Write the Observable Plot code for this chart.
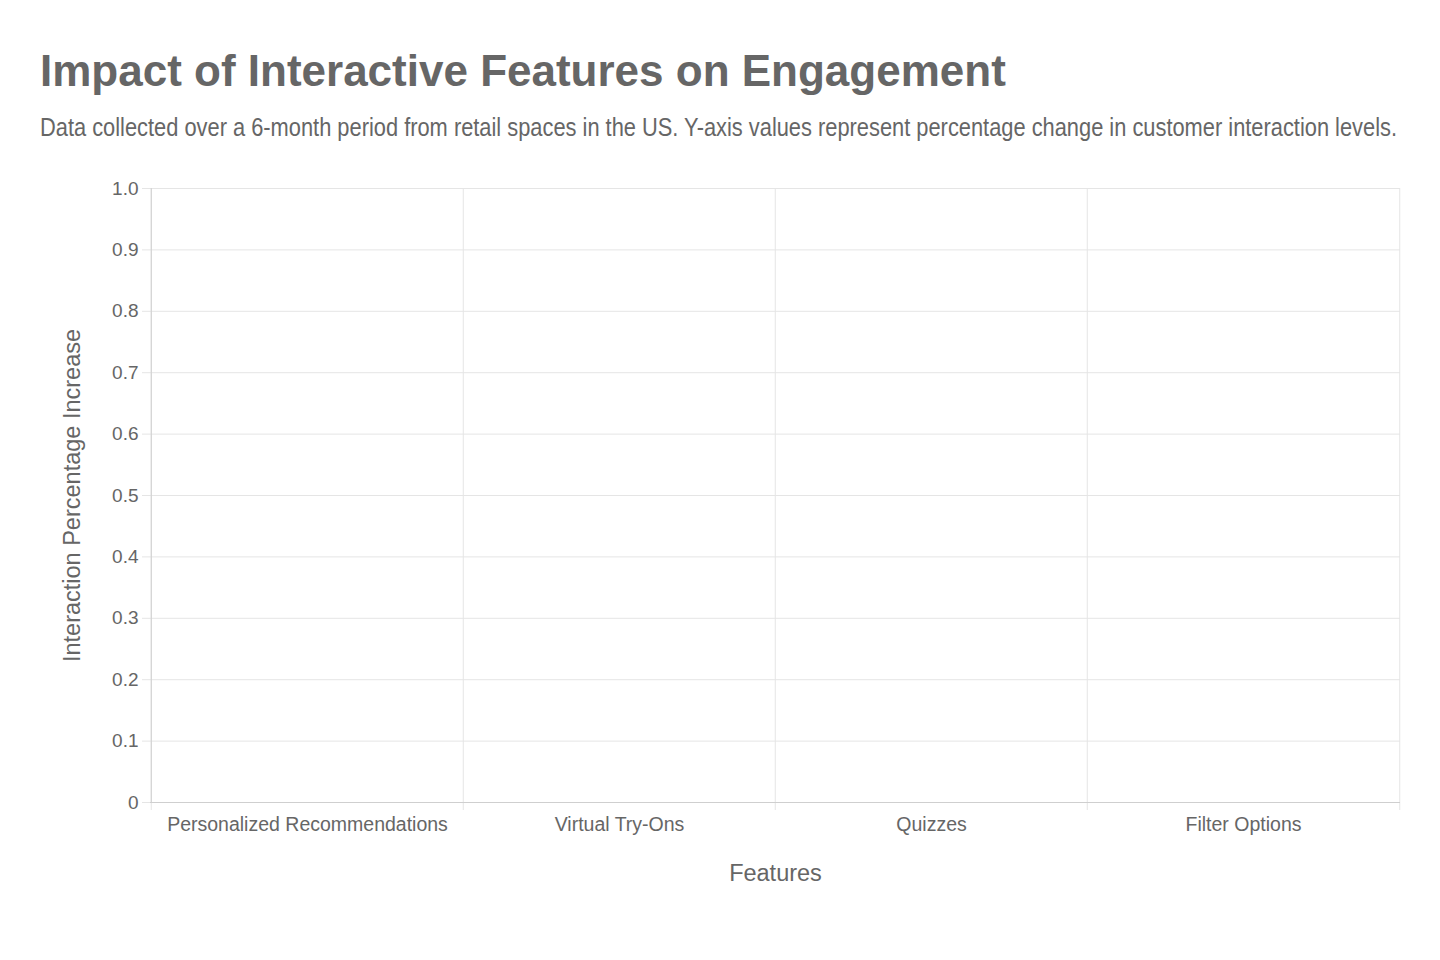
<!DOCTYPE html>
<html>
<head>
<meta charset="utf-8">
<script src="https://cdn.jsdelivr.net/npm/d3@7"></script>
<script src="https://cdn.jsdelivr.net/npm/@observablehq/plot@0.6"></script>
<style>
  html, body { margin: 0; padding: 0; background: #fff; }
  #wrap { position: relative; width: 1440px; height: 960px; overflow: hidden; }
  #title { position: absolute; left: 40px; top: 46px; font: bold 44px "Liberation Sans", Arial, sans-serif; color: #666; white-space: nowrap; }
  #subtitle { position: absolute; left: 40px; top: 112px; font: 26px "Liberation Sans", Arial, sans-serif; color: #666; white-space: nowrap; transform-origin: 0 0; display: inline-block; }
  #chart { position: absolute; left: 0; top: 0; }
</style>
</head>
<body>
<div id="wrap">
  <div id="chart"></div>
  <div id="title">Impact of Interactive Features on Engagement</div>
  <span id="subtitle">Data collected over a 6-month period from retail spaces in the US. Y-axis values represent percentage change in customer interaction levels.</span>
</div>
<script>
// Data (no bars are visible in the reference, so every value reads as 0)
const categories = ["Personalized Recommendations", "Virtual Try-Ons", "Quizzes", "Filter Options"];
const values = [0, 0, 0, 0];
const yTicks = [0, 0.1, 0.2, 0.3, 0.4, 0.5, 0.6, 0.7, 0.8, 0.9, 1.0];
const xTitle = "Features";
const yTitle = "Interaction Percentage Increase";

const data = categories.map((c, i) => ({category: c, value: values[i]}));

const W = 1440, H = 960;
const mL = 150, mR = 40, mT = 188, mB = 158;
const band = (W - mL - mR) / categories.length;
const gridColor = "#e5e5e5";
const axisColor = "#cfcfcf";
const textColor = "#666";

const chart = Plot.plot({
  width: W,
  height: H,
  marginLeft: mL,
  marginRight: mR,
  marginTop: mT,
  marginBottom: mB,
  style: {fontFamily: "'Liberation Sans', Arial, sans-serif", color: textColor, background: "transparent"},
  x: {type: "band", domain: categories, padding: 0, axis: null},
  y: {domain: [0, 1], axis: null},
  marks: [
    // horizontal grid
    Plot.ruleY(yTicks.filter(d => d > 0), {stroke: gridColor, strokeWidth: 1}),
    // vertical grid at band boundaries (extending below axis as ticks)
    Plot.ruleX(categories, {x: d => d, dx: -band / 2, stroke: gridColor, insetBottom: -8, y1: 1, y2: 0}),
    Plot.ruleX(categories.slice(-1), {x: d => d, dx: band / 2, stroke: gridColor, insetBottom: -8, y1: 1, y2: 0}),
    // left axis line
    Plot.ruleX(categories.slice(0, 1), {x: d => d, dx: -band / 2, stroke: axisColor, y1: 1, y2: 0}),
    // bottom axis line
    Plot.ruleY([0], {stroke: axisColor}),
    // bars
    Plot.barY(data, {x: "category", y: "value", fill: "#4e79a7"}),
    // y axis ticks and labels
    Plot.axisY(yTicks, {
      tickSize: 8, tickPadding: 4, stroke: gridColor,
      tickFormat: d => d === 0 ? "0" : d.toFixed(1),
      fontSize: 19, fill: textColor, label: null
    }),
    // x tick labels
    Plot.text(categories, {x: d => d, frameAnchor: "bottom", dy: 28, fontSize: 19.5, fill: textColor, text: d => d}),
    // axis titles
    Plot.text([xTitle], {frameAnchor: "bottom", dy: 78, fontSize: 23.5, fill: textColor, text: d => d}),
    Plot.text([yTitle], {frameAnchor: "left", dx: -78, rotate: -90, textAnchor: "middle", fontSize: 23.5, fill: textColor, text: d => d})
  ]
});
document.getElementById("chart").appendChild(chart);

// Fit the condensed subtitle to the reference's width
const sub = document.getElementById("subtitle");
const w = sub.getBoundingClientRect().width;
sub.style.transform = `scaleX(${1357 / w})`;
</script>
</body>
</html>
